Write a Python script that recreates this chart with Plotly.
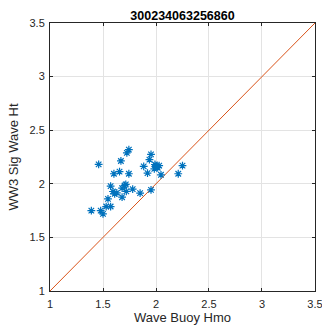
import plotly.graph_objects as go

buoy_hmo = [1.744, 1.725, 1.459, 1.669, 1.953, 1.938, 1.884, 2.000, 2.016, 1.984, 2.030,
            2.250, 2.210, 2.047, 1.920, 1.744, 1.656, 1.603, 1.572, 1.703, 1.715, 1.680,
            1.780, 1.594, 1.610, 1.630, 1.720, 1.850, 1.953, 1.547, 1.680, 1.530, 1.572,
            1.390, 1.478, 1.500, 1.990, 2.005]
ww3_ht = [2.319, 2.288, 2.181, 2.213, 2.275, 2.225, 2.163, 2.170, 2.150, 2.140, 2.170,
          2.170, 2.094, 2.084, 2.100, 2.094, 2.113, 2.094, 1.978, 1.984, 1.994, 1.960,
          1.950, 1.928, 1.906, 1.915, 1.930, 1.913, 1.944, 1.860, 1.875, 1.788, 1.788,
          1.750, 1.750, 1.720, 2.180, 2.160]
ref_line = [1, 3.5]
ticks = [1, 1.5, 2, 2.5, 3, 3.5]
tick_text = ["1", "1.5", "2", "2.5", "3", "3.5"]

FONT = "Liberation Sans, Arial"

fig = go.Figure()
fig.add_trace(go.Scatter(x=ref_line, y=ref_line, mode="lines",
                         line=dict(color="#D95319", width=1), showlegend=False))
fig.add_trace(go.Scatter(x=buoy_hmo, y=ww3_ht, mode="markers",
                         marker=dict(symbol="asterisk-open", size=6.5, color="#0072BD",
                                     line=dict(color="#0072BD", width=1.2)),
                         showlegend=False))

axis_common = dict(range=[1, 3.5001], tickvals=ticks, ticktext=tick_text,
                   showgrid=True, gridcolor="#e3e3e3", gridwidth=1,
                   showline=True, linecolor="#262626", linewidth=1, mirror="ticks",
                   ticks="inside", ticklen=3, tickcolor="#262626", automargin=False,
                   ticklabeloverflow="allow",
                   tickfont=dict(family=FONT, size=11, color="#262626"),
                   zeroline=False)

fig.update_layout(
    width=322, height=331,
    margin=dict(l=50, r=7, t=23, b=40, autoexpand=False),
    paper_bgcolor="white", plot_bgcolor="white",
    title=dict(text="<b>300234063256860</b>", x=0.5, xanchor="center", xref="paper",
               y=1, yanchor="bottom", yref="paper", pad=dict(b=3), automargin=False,
               font=dict(family=FONT, size=12.5, color="#000000")),
    xaxis=dict(**axis_common, ticklabelstandoff=3,
               title=dict(text="Wave Buoy Hmo", standoff=2,
                          font=dict(family=FONT, size=13, color="#262626"))),
    yaxis=dict(**axis_common, ticklabelstandoff=2,
               title=dict(text="WW3 Sig Wave Ht", standoff=7,
                          font=dict(family=FONT, size=13, color="#262626"))),
)

fig.write_html("out.html", config={"displayModeBar": False},
               post_script="document.body.style.margin='0';document.body.style.overflow='hidden';")
